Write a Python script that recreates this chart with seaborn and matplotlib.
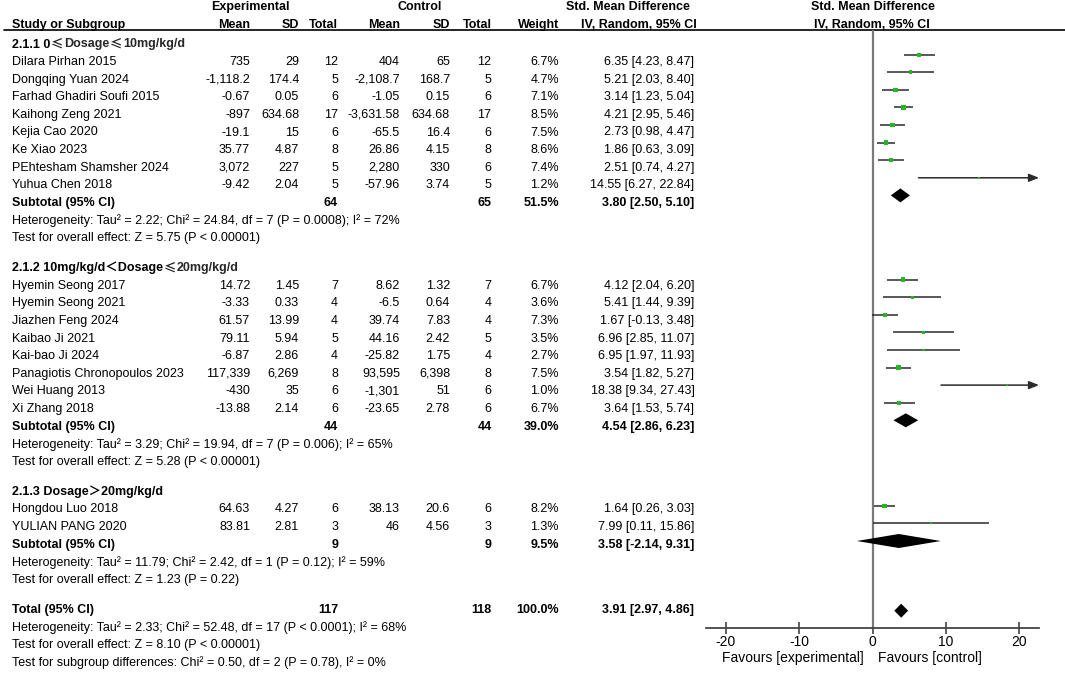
import pandas as pd
import seaborn as sns
import matplotlib.pyplot as plt

# ---- data ----
subgroups = ["2.1.1 0≤Dosage≤10mg/kg/d",
             "2.1.2 10mg/kg/d＜Dosage≤20mg/kg/d",
             "2.1.3 Dosage＞20mg/kg/d"]

study_group = [0] * 8 + [1] * 8 + [2] * 2
study_names = ["Dilara Pirhan 2015", "Dongqing Yuan 2024", "Farhad Ghadiri Soufi 2015",
               "Kaihong Zeng 2021", "Kejia Cao 2020", "Ke Xiao 2023",
               "PEhtesham Shamsher 2024", "Yuhua Chen 2018",
               "Hyemin Seong 2017", "Hyemin Seong 2021", "Jiazhen Feng 2024",
               "Kaibao Ji 2021", "Kai-bao Ji 2024", "Panagiotis Chronopoulos 2023",
               "Wei Huang 2013", "Xi Zhang 2018",
               "Hongdou Luo 2018", "YULIAN PANG 2020"]
exp_mean = ["735", "-1,118.2", "-0.67", "-897", "-19.1", "35.77", "3,072", "-9.42",
            "14.72", "-3.33", "61.57", "79.11", "-6.87", "117,339", "-430", "-13.88",
            "64.63", "83.81"]
exp_sd = ["29", "174.4", "0.05", "634.68", "15", "4.87", "227", "2.04",
          "1.45", "0.33", "13.99", "5.94", "2.86", "6,269", "35", "2.14",
          "4.27", "2.81"]
exp_n = [12, 5, 6, 17, 6, 8, 5, 5, 7, 4, 4, 5, 4, 8, 6, 6, 6, 3]
ctl_mean = ["404", "-2,108.7", "-1.05", "-3,631.58", "-65.5", "26.86", "2,280", "-57.96",
            "8.62", "-6.5", "39.74", "44.16", "-25.82", "93,595", "-1,301", "-23.65",
            "38.13", "46"]
ctl_sd = ["65", "168.7", "0.15", "634.68", "16.4", "4.15", "330", "3.74",
          "1.32", "0.64", "7.83", "2.42", "1.75", "6,398", "51", "2.78",
          "20.6", "4.56"]
ctl_n = [12, 5, 6, 17, 6, 8, 6, 5, 7, 4, 4, 5, 4, 8, 6, 6, 6, 3]
weight = [6.7, 4.7, 7.1, 8.5, 7.5, 8.6, 7.4, 1.2,
          6.7, 3.6, 7.3, 3.5, 2.7, 7.5, 1.0, 6.7,
          8.2, 1.3]
smd = [6.35, 5.21, 3.14, 4.21, 2.73, 1.86, 2.51, 14.55,
       4.12, 5.41, 1.67, 6.96, 6.95, 3.54, 18.38, 3.64,
       1.64, 7.99]
ci_lo = [4.23, 2.03, 1.23, 2.95, 0.98, 0.63, 0.74, 6.27,
         2.04, 1.44, -0.13, 2.85, 1.97, 1.82, 9.34, 1.53,
         0.26, 0.11]
ci_hi = [8.47, 8.40, 5.04, 5.46, 4.47, 3.09, 4.27, 22.84,
         6.20, 9.39, 3.48, 11.07, 11.93, 5.27, 27.43, 5.74,
         3.03, 15.86]

sub_n_exp = [64, 44, 9]
sub_n_ctl = [65, 44, 9]
sub_weight = [51.5, 39.0, 9.5]
sub_smd = [3.80, 4.54, 3.58]
sub_lo = [2.50, 2.86, -2.14]
sub_hi = [5.10, 6.23, 9.31]
sub_het = ["Heterogeneity: Tau² = 2.22; Chi² = 24.84, df = 7 (P = 0.0008); I² = 72%",
           "Heterogeneity: Tau² = 3.29; Chi² = 19.94, df = 7 (P = 0.006); I² = 65%",
           "Heterogeneity: Tau² = 11.79; Chi² = 2.42, df = 1 (P = 0.12); I² = 59%"]
sub_test = ["Test for overall effect: Z = 5.75 (P < 0.00001)",
            "Test for overall effect: Z = 5.28 (P < 0.00001)",
            "Test for overall effect: Z = 1.23 (P = 0.22)"]

total_n_exp, total_n_ctl, total_weight = 117, 118, 100.0
total_smd, total_lo, total_hi = 3.91, 2.97, 4.86
total_notes = ["Heterogeneity: Tau² = 2.33; Chi² = 52.48, df = 17 (P < 0.0001); I² = 68%",
               "Test for overall effect: Z = 8.10 (P < 0.00001)",
               "Test for subgroup differences: Chi² = 0.50, df = 2 (P = 0.78), I² = 0%"]

x_ticks = [-20, -10, 0, 10, 20]

# ---- layout (pixel units) ----
W, H = 1065, 673
STEP, GAP = 17.6, 30
TXT_DY = 1.5                    # text sits a touch lower than the row centre
MARK_SHIFT = [6.0, 4.7, 2.0]    # forest marks sit a little above their text rows
TOTAL_SHIFT = -2.5
XLIM = (-22.7, 22.7)
col = dict(mean_e=250, sd_e=299, n_e=338, mean_c=400, sd_c=450, n_c=491.5,
           w=559, ci=694.5)
GREEN = "#22b822"
LINE = "#2b2b2b"
LATIN = ["Liberation Sans", "Noto Sans CJK SC", "DejaVu Sans"]
CJK = ["Noto Sans CJK SC", "DejaVu Sans"]

sns.set_theme(style="white")
plt.rcParams["font.family"] = LATIN

df = pd.DataFrame(dict(name=study_names, grp=study_group, me=exp_mean, se=exp_sd,
                       ne=exp_n, mc=ctl_mean, sc=ctl_sd, nc=ctl_n, w=weight,
                       smd=smd, lo=ci_lo, hi=ci_hi))

# assign row positions
y = 43.0
head_y, sub_y, het_y, test_y, study_y = [], [], [], [], []
for g in range(len(subgroups)):
    head_y.append(y)
    y += STEP
    for _ in range((df.grp == g).sum()):
        study_y.append(y)
        y += STEP
    sub_y.append(y)
    y += STEP
    het_y.append(y)
    y += STEP
    test_y.append(y)
    y += GAP
total_y = y
df["y"] = study_y
df["my"] = [yy - MARK_SHIFT[g] for yy, g in zip(df.y, df.grp)]

fig = plt.figure(figsize=(W / 100, H / 100), dpi=100)
tx = fig.add_axes([0, 0, 1, 1])
tx.set_xlim(0, W)
tx.set_ylim(H, 0)
tx.axis("off")

FS = 9


def t(x, yy, s, ha="left", bold=False, size=FS):
    return tx.text(x, yy + TXT_DY, s, ha=ha, va="center", fontsize=size,
                   fontweight="bold" if bold else "normal", color="black")


def t_leq(x, yy, s):
    # '≤' is drawn in the CJK face (wide, slanted) like the source figure
    parts = s.split("≤")
    prev = t(x, yy, parts[0], bold=True)
    for p in parts[1:]:
        prev = tx.annotate("≤", xy=(1, 0.5), xycoords=prev, xytext=(0.4, 0),
                           textcoords="offset points", ha="left", va="center",
                           fontsize=FS, fontweight="bold", family=CJK)
        prev = tx.annotate(p, xy=(1, 0.5), xycoords=prev, xytext=(0.4, 0),
                           textcoords="offset points", ha="left", va="center",
                           fontsize=FS, fontweight="bold")


# header
t(250, 5.5, "Experimental", ha="center", bold=True)
t(420, 5.5, "Control", ha="center", bold=True)
t(628, 5.5, "Std. Mean Difference", ha="center", bold=True)
t(873, 5.5, "Std. Mean Difference", ha="center", bold=True)
t(12, 23.5, "Study or Subgroup", bold=True)
for key, lab in [("mean_e", "Mean"), ("sd_e", "SD"), ("n_e", "Total"),
                 ("mean_c", "Mean"), ("sd_c", "SD"), ("n_c", "Total"), ("w", "Weight")]:
    t(col[key], 23.5, lab, ha="right", bold=True)
t(639, 23.5, "IV, Random, 95% CI", ha="center", bold=True)
t(872, 23.5, "IV, Random, 95% CI", ha="center", bold=True)
tx.plot([4, W], [29.5, 29.5], color="black", lw=1.2)

# study rows
for r in df.itertuples():
    t(12, r.y, r.name)
    t(col["mean_e"], r.y, r.me, ha="right")
    t(col["sd_e"], r.y, r.se, ha="right")
    t(col["n_e"], r.y, str(r.ne), ha="right")
    t(col["mean_c"], r.y, r.mc, ha="right")
    t(col["sd_c"], r.y, r.sc, ha="right")
    t(col["n_c"], r.y, str(r.nc), ha="right")
    t(col["w"], r.y, f"{r.w:.1f}%", ha="right")
    t(col["ci"], r.y, f"{r.smd:.2f} [{r.lo:.2f}, {r.hi:.2f}]", ha="right")

# subgroup rows
for g, name in enumerate(subgroups):
    t_leq(12, head_y[g], name)
    t(12, sub_y[g], "Subtotal (95% CI)", bold=True)
    t(col["n_e"], sub_y[g], str(sub_n_exp[g]), ha="right", bold=True)
    t(col["n_c"], sub_y[g], str(sub_n_ctl[g]), ha="right", bold=True)
    t(col["w"], sub_y[g], f"{sub_weight[g]:.1f}%", ha="right", bold=True)
    t(col["ci"], sub_y[g], f"{sub_smd[g]:.2f} [{sub_lo[g]:.2f}, {sub_hi[g]:.2f}]",
      ha="right", bold=True)
    t(12, het_y[g], sub_het[g])
    t(12, test_y[g], sub_test[g])

t(12, total_y, "Total (95% CI)", bold=True)
t(col["n_e"], total_y, str(total_n_exp), ha="right", bold=True)
t(col["n_c"], total_y, str(total_n_ctl), ha="right", bold=True)
t(col["w"], total_y, f"{total_weight:.1f}%", ha="right", bold=True)
t(col["ci"], total_y, f"{total_smd:.2f} [{total_lo:.2f}, {total_hi:.2f}]",
  ha="right", bold=True)
for i, note in enumerate(total_notes):
    t(12, total_y + STEP * (i + 1), note)

t(864, 656.5, "Favours [experimental]", ha="right", size=10)
t(878, 656.5, "Favours [control]", ha="left", size=10)

# ---- forest panel ----
ax_top, ax_bot, ax_l, ax_r = 29.5, 627.5, 706, 1039
ax = fig.add_axes([ax_l / W, (H - ax_bot) / H, (ax_r - ax_l) / W, (ax_bot - ax_top) / H])
ax.patch.set_alpha(0)
ax.set_xlim(*XLIM)
ax.set_ylim(ax_bot, ax_top)
ax.axvline(0, color="#7a7a7a", lw=1.6, zorder=1)

inside = df[df.hi <= XLIM[1]]
ax.hlines(inside.my, inside.lo, inside.hi, color=LINE, lw=1.1, zorder=2)
for r in df[df.hi > XLIM[1]].itertuples():
    ax.annotate("", xy=(XLIM[1], r.my), xytext=(r.lo, r.my),
                arrowprops=dict(arrowstyle="-|>,head_length=0.5,head_width=0.2",
                                color=LINE, lw=1.1, shrinkA=0, shrinkB=0), zorder=2)

sns.scatterplot(data=df, x="smd", y="my", size="w", sizes=(1.5, 11), size_norm=(1.0, 8.6),
                marker="s", color=GREEN, linewidth=0, legend=False, ax=ax, zorder=3)

dh = 7
d_est = sub_smd + [total_smd]
d_lo = sub_lo + [total_lo]
d_hi = sub_hi + [total_hi]
d_y = [sy - s for sy, s in zip(sub_y, MARK_SHIFT)] + [total_y - TOTAL_SHIFT]
for est, lo, hi, yy in zip(d_est, d_lo, d_hi, d_y):
    ax.fill([lo, est, hi, est], [yy, yy - dh, yy, yy + dh], color="black", lw=0, zorder=4)

for s in ["top", "left", "right"]:
    ax.spines[s].set_visible(False)
ax.spines["bottom"].set_color("#444444")
ax.spines["bottom"].set_linewidth(1.3)
ax.set_yticks([])
ax.set_xticks(x_ticks)
ax.set_xticklabels([str(v) for v in x_ticks])
ax.tick_params(axis="x", direction="inout", length=9, width=1.2, color="#444444",
               labelcolor="black", labelsize=10, pad=1, bottom=True)
ax.set_xlabel("")
ax.set_ylabel("")

fig.savefig("out.png", dpi=100)
